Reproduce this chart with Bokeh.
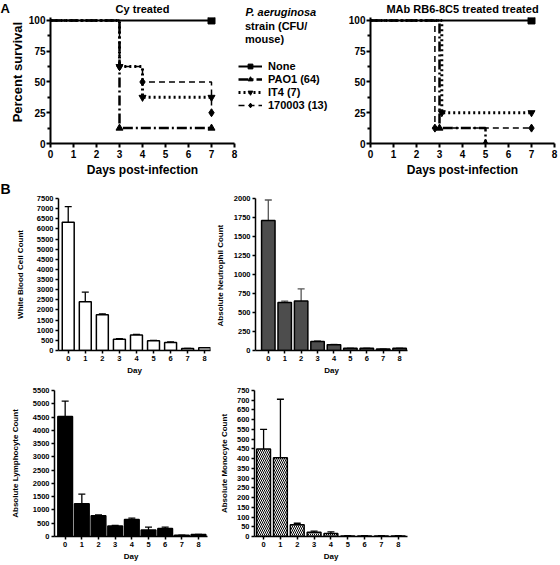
from math import pi
from bokeh.plotting import figure
from bokeh.layouts import row, column
from bokeh.models import (Range1d, Label, Legend, LegendItem, ColumnDataSource,
                          Whisker, TeeHead, FixedTicker)
from bokeh.embed import file_html
from bokeh.resources import INLINE

FONT = "Liberation Sans"

# ---------------- Panel A data ----------------
day_ticks = [0, 1, 2, 3, 4, 5, 6, 7, 8]
survival_ticks = [0, 25, 50, 75, 100]
survival_minor = [12.5, 37.5, 62.5, 87.5]
strain_labels = ["None", "PAO1 (64)", "IT4 (7)", "170003 (13)"]
legend_title = ["P. aeruginosa", "strain (CFU/", "mouse)"]

cy_days = [[0, 7], [0, 3, 7], [0, 3, 4, 7], [0, 3, 4, 7]]
cy_surv = [[100, 100], [100, 12.5, 12.5], [100, 62.5, 37.5, 37.5], [100, 62.5, 50, 25]]
mab_days = [[0, 7], [0, 3, 5], [0, 3.1, 7], [0, 2.8, 7]]
mab_surv = [[100, 100], [100, 12.5, 0], [100, 25, 25], [100, 12.5, 12.5]]

# ---------------- Panel B data ----------------
bar_days = [0, 1, 2, 3, 4, 5, 6, 7, 8]
wbc = [6330, 2400, 1760, 560, 770, 480, 400, 95, 130]
wbc_upper = [7100, 2880, 1810, 590, 790, 500, 430, 105, 140]
wbc_ticks = list(range(0, 7501, 500))
neu = [1710, 630, 650, 120, 75, 30, 30, 20, 30]
neu_upper = [1980, 650, 810, 125, 80, 32, 32, 22, 32]
neu_ticks = list(range(0, 2001, 250))
lym = [4520, 1230, 785, 395, 640, 245, 305, 50, 75]
lym_upper = [5100, 1595, 810, 415, 690, 355, 355, 55, 80]
lym_ticks = list(range(0, 5501, 500))
mon = [450, 405, 60, 22, 16, 3, 3, 3, 3]
mon_upper = [550, 705, 68, 28, 24, 4, 4, 4, 4]
mon_ticks = list(range(0, 751, 50))

line_styles = [
    dict(line_dash="solid", line_width=2, marker="square", size=7),
    dict(line_dash="10 3 2 3", line_width=2.5, marker="triangle", size=7),
    dict(line_dash="2 3", line_width=3, marker="inverted_triangle", size=7),
    dict(line_dash="6 4", line_width=1.5, marker="diamond", size=8),
]

# row borders (all figures in a row share them)
R1_TOP, R1_BOT, R1_H = 15, 37, 180
R2_TOP, R2_BOT, R2_H = 16, 27, 197
R3_TOP, R3_BOT, R3_H = 13, 24, 186
SURV_YMAX = 102.4


def base_fig(width, height, xr, yr, mbl, mbr, mbt, mbb, axes=True):
    kw = {} if axes else dict(x_axis_type=None, y_axis_type=None)
    p = figure(width=width, height=height, x_range=xr, y_range=yr,
               output_backend="svg", toolbar_location=None,
               min_border_left=mbl, min_border_right=mbr,
               min_border_top=mbt, min_border_bottom=mbb, **kw)
    p.grid.visible = False
    p.outline_line_color = None
    return p


def set_title(p, text, size, align="center", style="bold", offset=0, valign="top", standoff=0):
    p.title.text = text
    p.title.align = align
    p.title.offset = offset
    p.title.standoff = standoff
    p.title.vertical_align = valign
    p.title.text_font = FONT
    p.title.text_font_size = size
    p.title.text_font_style = style
    p.title.text_color = "black"


def style_axes(p, lw, tick_out, minor_out, font_size, label_size, standoff):
    for ax in p.axis:
        ax.axis_line_width = lw
        ax.axis_line_color = "black"
        ax.major_tick_line_width = lw
        ax.minor_tick_line_width = lw
        ax.major_tick_out = tick_out
        ax.major_tick_in = 0
        ax.minor_tick_out = minor_out
        ax.minor_tick_in = 0
        ax.major_label_text_font = FONT
        ax.major_label_text_font_size = font_size
        ax.major_label_text_font_style = "bold"
        ax.major_label_text_color = "black"
        ax.major_label_standoff = standoff
        ax.axis_label_text_font = FONT
        ax.axis_label_text_font_size = label_size
        ax.axis_label_text_font_style = "bold"
        ax.axis_label_text_color = "black"


def survival_fig(width, mbl, mbr, days, surv, title):
    p = base_fig(width, R1_H, Range1d(0, 8), Range1d(0, SURV_YMAX), mbl, mbr, R1_TOP, R1_BOT)
    set_title(p, title, "11px", standoff=2)
    p.xaxis.ticker = FixedTicker(ticks=day_ticks)
    p.yaxis.ticker = FixedTicker(ticks=survival_ticks, minor_ticks=survival_minor)
    style_axes(p, 2, 4, 3, "10px", "12px", 1)
    p.xaxis.major_label_standoff = 2
    p.xaxis.axis_label = "Days post-infection"
    p.xaxis.axis_label_standoff = 2
    for t, s, st in zip(days, surv, line_styles):
        src = ColumnDataSource(dict(t=t, s=s))
        p.step("t", "s", source=src, mode="after", line_color="black",
               line_width=st["line_width"], line_dash=st["line_dash"])
        msrc = ColumnDataSource(dict(t=t[1:], s=s[1:]))
        p.scatter("t", "s", source=msrc, marker=st["marker"], size=st["size"],
                  color="black")
    return p


# strip left of panel A: letter + y-axis title
l1 = base_fig(25, R1_H, Range1d(0, 25), Range1d(0, SURV_YMAX), 0, 0, R1_TOP, R1_BOT, axes=False)
set_title(l1, "A", "13px", align="left")
l1.add_layout(Label(x=17, y=58, text="Percent survival", angle=pi / 2,
                    text_align="center", text_baseline="middle", text_font=FONT,
                    text_font_size="13px", text_font_style="bold", text_color="black"))

a1 = survival_fig(213, 22, 4, cy_days, cy_surv, "Cy treated")
a2 = survival_fig(226, 38, 4, mab_days, mab_surv, "MAb RB6-8C5 treated treated")

# legend figure
leg = base_fig(94, R1_H, Range1d(0, 1), Range1d(0, 1), 0, 0, R1_TOP, R1_BOT, axes=False)
set_title(leg, legend_title[0], "11px", align="left", style="bold italic", offset=7,
          valign="bottom")
items = []
blank = None
for t, s, st, lab in zip(cy_days, cy_surv, line_styles, strain_labels):
    src = ColumnDataSource(dict(t=t, s=s))
    l = leg.step("t", "s", source=src, mode="after", line_color="black",
                 line_width=st["line_width"], line_dash=st["line_dash"], visible=False)
    m = leg.scatter("t", "s", source=src, marker=st["marker"], size=st["size"],
                    color="black", visible=False)
    if blank is None:
        blank = leg.scatter("t", "s", source=src, size=0, fill_alpha=0, line_alpha=0,
                            visible=False)
    items.append(LegendItem(label=lab, renderers=[l, m]))

leg_kw = dict(glyph_height=12, label_height=12, spacing=1, padding=0, margin=0,
              label_standoff=6, border_line_color=None, background_fill_alpha=0,
              label_text_font=FONT, label_text_font_size="11px",
              label_text_font_style="bold", label_text_color="black")
leg.add_layout(Legend(items=items, location=(0, 32), glyph_width=24, **leg_kw))
title_items = [LegendItem(label=txt, renderers=[blank]) for txt in legend_title[1:]]
leg.add_layout(Legend(items=title_items, location=(0, 98), glyph_width=1, **leg_kw))


def bar_fig(width, rowh, mbl, mbr, mbt, mbb, x0, x1, values, upper, ticks, ylabel,
            fill, bar_width, lab_standoff, hatch=None, wcolor="black"):
    p = base_fig(width, rowh, Range1d(x0, x1), Range1d(0, ticks[-1]), mbl, mbr, mbt, mbb)
    p.xaxis.ticker = FixedTicker(ticks=bar_days)
    p.yaxis.ticker = FixedTicker(ticks=ticks)
    style_axes(p, 1.5, 3, 0, "7.5px", "8px", 2)
    p.xaxis.axis_label = "Day"
    p.xaxis.axis_label_standoff = 2
    p.yaxis.axis_label = ylabel
    p.yaxis.axis_label_standoff = lab_standoff
    src = ColumnDataSource(dict(day=bar_days, top=values, upper=upper))
    kw = dict(fill_color=fill, line_color="black", line_width=1.5)
    if hatch:
        kw.update(hatch_pattern=hatch, hatch_color="black", hatch_scale=4, hatch_weight=1)
    p.vbar(x="day", top="top", width=bar_width, source=src, **kw)
    p.add_layout(Whisker(source=src, base="day", lower="top", upper="upper",
                         lower_head=None,
                         upper_head=TeeHead(size=7, line_color=wcolor, line_width=1.3),
                         line_color=wcolor, line_width=1.3))
    return p


l2 = base_fig(12, R2_H, Range1d(0, 12), Range1d(0, 1), 0, 0, R2_TOP, R2_BOT, axes=False)
set_title(l2, "B", "14px", align="left")
wbc_p = bar_fig(200, R2_H, 41, 2, R2_TOP, R2_BOT, -0.57, 8.34, wbc, wbc_upper, wbc_ticks,
                "White Blood Cell Count", "white", 0.7, 9)
neu_p = bar_fig(346, R2_H, 40, 151, R2_TOP, R2_BOT, -0.78, 8.48, neu, neu_upper, neu_ticks,
                "Absolute Neutrophil  Count", "#4d4d4d", 0.82, 6, wcolor="#555555")
lym_p = bar_fig(212, R3_H, 54, 5, R3_TOP, R3_BOT, -0.64, 8.54, lym, lym_upper, lym_ticks,
                "Absolute Lymphocyte Count", "black", 0.88, 10)
mon_p = bar_fig(346, R3_H, 42, 151, R3_TOP, R3_BOT, -0.54, 8.55, mon, mon_upper, mon_ticks,
                "Absolute Monocyte Count", "white", 0.82, 5, hatch="left_diagonal_line")

layout = column(row(l1, a1, leg, a2), row(l2, wbc_p, neu_p), row(lym_p, mon_p))

with open("out.html", "w") as f:
    f.write(file_html(layout, INLINE))
